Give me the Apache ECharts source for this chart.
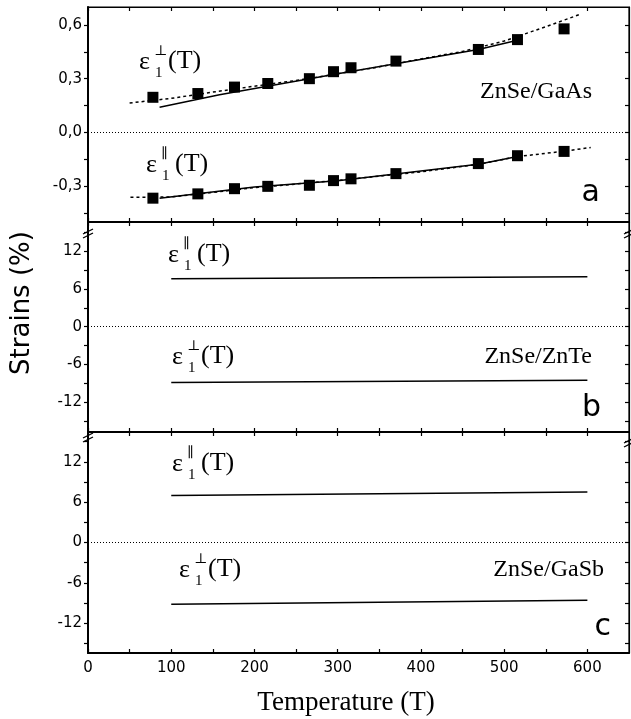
<!DOCTYPE html>
<html>
<head>
<meta charset="utf-8">
<script src="https://cdn.jsdelivr.net/npm/echarts@6/dist/echarts.min.js"></script>
<style>
  html, body { margin: 0; padding: 0; background: #fff; }
  #main { width: 631px; height: 719px; }
</style>
</head>
<body>
<div id="main"></div>
<script>
// panel a: ZnSe/GaAs measured strains
var tempA = [78, 132, 176, 216, 266, 295, 316, 370, 469, 516, 572];
var perpA = [0.196, 0.217, 0.253, 0.273, 0.300, 0.339, 0.361, 0.398, 0.463, 0.518, 0.578];
var parA = [-0.367, -0.343, -0.314, -0.301, -0.295, -0.269, -0.259, -0.230, -0.174, -0.130, -0.106];

// fitted curves, panel a
var perpFitT = [86, 158, 300, 469, 516];
var perpFit = [0.141, 0.210, 0.327, 0.463, 0.515];
var perpDashT = [50, 100, 150, 200, 250, 300, 350, 400, 450, 500, 550, 590];
var perpDash = [0.164, 0.190, 0.225, 0.258, 0.290, 0.327, 0.366, 0.410, 0.452, 0.510, 0.590, 0.657];
var parFitT = [86, 200, 300, 400, 469, 516];
var parFit = [-0.367, -0.305, -0.270, -0.215, -0.178, -0.135];
var parDashT = [51, 100, 150, 200, 300, 400, 469, 516, 572, 604];
var parDash = [-0.362, -0.360, -0.335, -0.308, -0.268, -0.220, -0.178, -0.135, -0.105, -0.084];

// panels b and c
var tempBC = [100, 600];
var parB = [7.6, 7.9];
var perpB = [-8.85, -8.5];
var parC = [7.0, 7.5];
var perpC = [-9.2, -8.6];

var xLabels = [0, 100, 200, 300, 400, 500, 600];
var xTicks = [0, 50, 100, 150, 200, 250, 300, 350, 400, 450, 500, 550, 600];
var yLabelsA = [-0.3, 0, 0.3, 0.6];
var yTicksA = [-0.45, -0.3, -0.15, 0, 0.15, 0.3, 0.45, 0.6];
var yLabelsBC = [-12, -6, 0, 6, 12];
var yTicksBC = [-15, -12, -9, -6, -3, 0, 3, 6, 9, 12, 15];

var SANS = '"DejaVu Sans", sans-serif';
var SERIF = '"Liberation Serif", "DejaVu Serif", serif';

function zip(xs, ys) {
    return xs.map(function (x, i) { return [x, ys[i]]; });
}

var grids = [
    { left: 88, right: 2, top: 7, height: 215 },
    { left: 88, right: 2, top: 222, height: 210 },
    { left: 88, right: 2, top: 432, height: 221 }
];
var yRanges = [[-0.5, 0.7], [-16.7, 16.6], [-16.45, 16.45]];

var xAxes = [];
var yAxes = [];
grids.forEach(function (g, i) {
    g.show = true;
    g.borderColor = '#000';
    g.borderWidth = 1.2;
    xAxes.push({
        gridIndex: i, type: 'value', min: 0, max: 650, position: 'bottom',
        axisLine: { onZero: false, lineStyle: { color: '#000', width: 2 } },
        axisTick: { inside: true, length: 4, customValues: xTicks, lineStyle: { color: '#000', width: 1.2 } },
        axisLabel: {
            show: i === 2, customValues: xLabels, margin: 8,
            color: '#000', fontSize: 15, fontFamily: SANS
        },
        splitLine: { show: false }
    });
    xAxes.push({
        gridIndex: i, type: 'value', min: 0, max: 650, position: 'top',
        axisLine: { onZero: false, lineStyle: { color: '#000', width: 1.2 } },
        axisTick: { inside: true, length: 4, customValues: xTicks, lineStyle: { color: '#000', width: 1.2 } },
        axisLabel: { show: false },
        splitLine: { show: false }
    });
    var labels = i === 0 ? yLabelsA : yLabelsBC;
    var ticks = i === 0 ? yTicksA : yTicksBC;
    yAxes.push({
        gridIndex: i, type: 'value', min: yRanges[i][0], max: yRanges[i][1], position: 'left',
        axisLine: { show: true, onZero: false, lineStyle: { color: '#000', width: 2 } },
        axisTick: { show: true, inside: false, length: 4, customValues: ticks, lineStyle: { color: '#000', width: 1.2 } },
        axisLabel: {
            customValues: labels, margin: 6, color: '#000', fontSize: 15, fontFamily: SANS,
            formatter: function (v) {
                return i === 0 ? v.toFixed(1).replace('.', ',') : String(v);
            }
        },
        splitLine: { show: false }
    });
    yAxes.push({
        gridIndex: i, type: 'value', min: yRanges[i][0], max: yRanges[i][1], position: 'right',
        axisLine: { show: true, onZero: false, lineStyle: { color: '#000', width: 1.2 } },
        axisTick: { show: true, inside: true, length: 4, customValues: ticks, lineStyle: { color: '#000', width: 1.2 } },
        axisLabel: { show: false },
        splitLine: { show: false }
    });
});

var zeroLine = {
    silent: true, symbol: 'none', label: { show: false },
    lineStyle: { color: '#000', type: [1, 2], width: 1, opacity: 1 },
    emphasis: { disabled: true },
    data: [{ yAxis: 0 }]
};

function line(name, grid, data, dashed) {
    return {
        name: name, type: 'line', xAxisIndex: grid * 2, yAxisIndex: grid * 2,
        data: data, showSymbol: false, smooth: false, silent: true,
        lineStyle: { color: '#000', width: 1.5, type: dashed ? [3, 3] : 'solid' }
    };
}
function squares(name, data) {
    return {
        name: name, type: 'scatter', xAxisIndex: 0, yAxisIndex: 0,
        symbol: 'rect', symbolSize: 11, itemStyle: { color: '#000', opacity: 1 }, data: data, z: 5
    };
}

var series = [
    line('perp fit', 0, zip(perpFitT, perpFit), false),
    line('perp dash', 0, zip(perpDashT, perpDash), true),
    line('par fit', 0, zip(parFitT, parFit), false),
    line('par dash', 0, zip(parDashT, parDash), true),
    squares('perp', zip(tempA, perpA)),
    squares('par', zip(tempA, parA)),
    line('par b', 1, zip(tempBC, parB), false),
    line('perp b', 1, zip(tempBC, perpB), false),
    line('par c', 2, zip(tempBC, parC), false),
    line('perp c', 2, zip(tempBC, perpC), false)
];
series[0].markLine = zeroLine;
series[6].markLine = zeroLine;
series[8].markLine = zeroLine;

function txt(x, y, text, size, family, align) {
    return {
        type: 'text', x: x, y: y, silent: true,
        style: {
            text: text, fontSize: size, fontFamily: family, fill: '#000',
            align: align || 'left', verticalAlign: 'middle'
        }
    };
}
function eps(x, y, sym) {
    return [
        txt(x, y, 'ε', 26, SERIF),
        txt(x + 15, y - 11, sym, 14, SERIF),
        txt(x + 16, y + 11, '1', 15, SERIF),
        txt(x + 29, y - 1, '(T)', 26, SERIF)
    ];
}
function breakMark(cx, cy) {
    return [
        { type: 'line', silent: true, shape: { x1: cx - 5, y1: cy + 1, x2: cx + 5, y2: cy - 4 }, style: { stroke: '#000', lineWidth: 1.3 } },
        { type: 'line', silent: true, shape: { x1: cx - 5, y1: cy + 5, x2: cx + 5, y2: cy }, style: { stroke: '#000', lineWidth: 1.3 } }
    ];
}

var graphics = [].concat(
    eps(139, 62, '⊥'),
    eps(146, 165, '∥'),
    eps(168, 255, '∥'),
    eps(172, 357, '⊥'),
    eps(172, 464, '∥'),
    eps(179, 570, '⊥'),
    [
        txt(592, 92, 'ZnSe/GaAs', 24, SERIF, 'right'),
        txt(592, 357, 'ZnSe/ZnTe', 24, SERIF, 'right'),
        txt(604, 570, 'ZnSe/GaSb', 24, SERIF, 'right'),
        txt(600, 193, 'a', 30, SANS, 'right'),
        txt(601, 408, 'b', 30, SANS, 'right'),
        txt(611, 627, 'c', 30, SANS, 'right'),
        txt(346, 703, 'Temperature (T)', 27, SERIF, 'center'),
        {
            type: 'text', x: 22, y: 303, rotation: Math.PI / 2, silent: true,
            style: {
                text: 'Strains (%)', fontSize: 26, fontFamily: SANS, fill: '#000',
                align: 'center', verticalAlign: 'middle'
            }
        }
    ],
    breakMark(88, 233),
    breakMark(88, 437),
    breakMark(629, 233),
    breakMark(629, 442)
);

var chart = echarts.init(document.getElementById('main'));
chart.setOption({
    animation: false,
    backgroundColor: '#fff',
    grid: grids,
    xAxis: xAxes,
    yAxis: yAxes,
    series: series,
    graphic: graphics
});
</script>
</body>
</html>
